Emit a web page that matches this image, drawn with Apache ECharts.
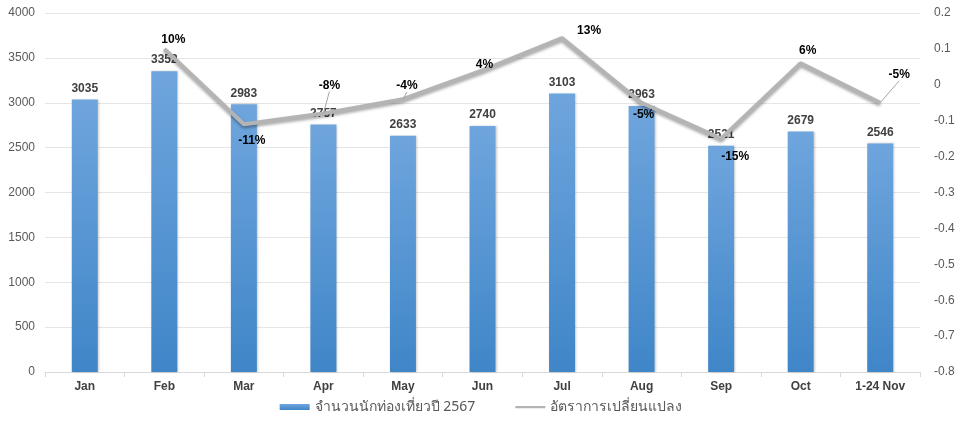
<!DOCTYPE html>
<html><head><meta charset="utf-8">
<script src="https://cdn.jsdelivr.net/npm/echarts@6/dist/echarts.min.js"></script>
<style>html,body{margin:0;padding:0;background:#fff}#c{width:962px;height:423px}</style>
</head><body><div id="c"></div>
<script>
var categories = ['Jan','Feb','Mar','Apr','May','Jun','Jul','Aug','Sep','Oct','1-24 Nov'];
var visitors = [3035,3352,2983,2757,2633,2740,3103,2963,2521,2679,2546];
var changeRate = [null,0.10,-0.11,-0.08,-0.04,0.04,0.13,-0.05,-0.15,0.06,-0.05];
var changeLabels = ['','10%','-11%','-8%','-4%','4%','13%','-5%','-15%','6%','-5%'];
var seriesNames = ['จำนวนนักท่องเที่ยวปี 2567','อัตราการเปลี่ยนแปลง'];
// label layout (not data)
var lblOffset = [[0,0],[9,1],[8,26],[6,-18],[4,-3],[2,4],[27,3],[2,22],[14,28],[7,-3],[19,-18]];
var lblLeader = [false,false,false,true,true,false,false,false,false,false,true];

var lineData = changeRate.map(function(v,i){
  return {value:v, labelLine:{show:lblLeader[i]}};
});

var chart = echarts.init(document.getElementById('c'));
var font = 'Liberation Sans, Arial, sans-serif';
chart.setOption({
  animation:false,
  textStyle:{fontFamily:font},
  grid:{left:45,right:42,top:13,bottom:51,containLabel:false},
  legend:{bottom:4,left:'center',itemGap:40,itemWidth:30,itemHeight:6,
    textStyle:{fontSize:14,color:'#595959',fontFamily:'Noto Sans, '+font},
    data:[{name:seriesNames[0],icon:'rect'},
      {name:seriesNames[1],icon:'path://M0,0L0.01,0L0.01,0.01Z M0,2L30,2L30,4.2L0,4.2Z M0,6L0.01,6L0.01,5.99Z',
       itemStyle:{color:'#b4b4b4',opacity:1}}]},
  xAxis:{type:'category',data:categories,
    axisLine:{lineStyle:{color:'#d9d9d9'}},
    axisTick:{show:true,lineStyle:{color:'#d9d9d9'},length:5},
    axisLabel:{color:'#404040',fontWeight:'bold',fontSize:12,margin:9}},
  yAxis:[{type:'value',min:0,max:4000,interval:500,
    axisLine:{show:false},axisTick:{show:false},
    splitLine:{lineStyle:{color:'#e5e5e5'}},
    axisLabel:{color:'#595959',fontSize:12,margin:10,formatter:function(v){return String(v);}}},
   {type:'value',min:-0.8,max:0.2,interval:0.1,
    axisLine:{show:false},axisTick:{show:false},splitLine:{show:false},
    axisLabel:{color:'#595959',fontSize:12,margin:14,
      formatter:function(v){return String(Math.round(v*10)/10);}}}],
  series:[{
    name:seriesNames[0],type:'bar',data:visitors,barWidth:26,
    itemStyle:{color:new echarts.graphic.LinearGradient(0,0,0,1,[{offset:0,color:'#6fa5dd'},{offset:1,color:'#3f86c8'}]),
      shadowColor:'rgba(0,0,0,0.2)',shadowBlur:2,shadowOffsetX:1},
    label:{show:true,position:'top',distance:5,color:'#404040',fontWeight:'bold',fontSize:12}
  },{
    name:seriesNames[1],type:'line',yAxisIndex:1,data:lineData,
    symbol:'circle',symbolSize:0.01,showSymbol:true,connectNulls:false,
    lineStyle:{color:'#b4b4b4',width:4,shadowColor:'rgba(0,0,0,0.35)',shadowBlur:3,shadowOffsetY:2},
    itemStyle:{color:'#b4b4b4'},
    label:{show:true,position:'top',distance:4,color:'#000',fontWeight:'bold',fontSize:12,
      formatter:function(p){return changeLabels[p.dataIndex];}},
    labelLayout:function(p){var o=lblOffset[p.dataIndex]||[0,0];return {dx:o[0],dy:o[1]};},
    labelLine:{show:false,lineStyle:{color:'#a6a6a6',width:1}}
  }]
});
</script></body></html>
